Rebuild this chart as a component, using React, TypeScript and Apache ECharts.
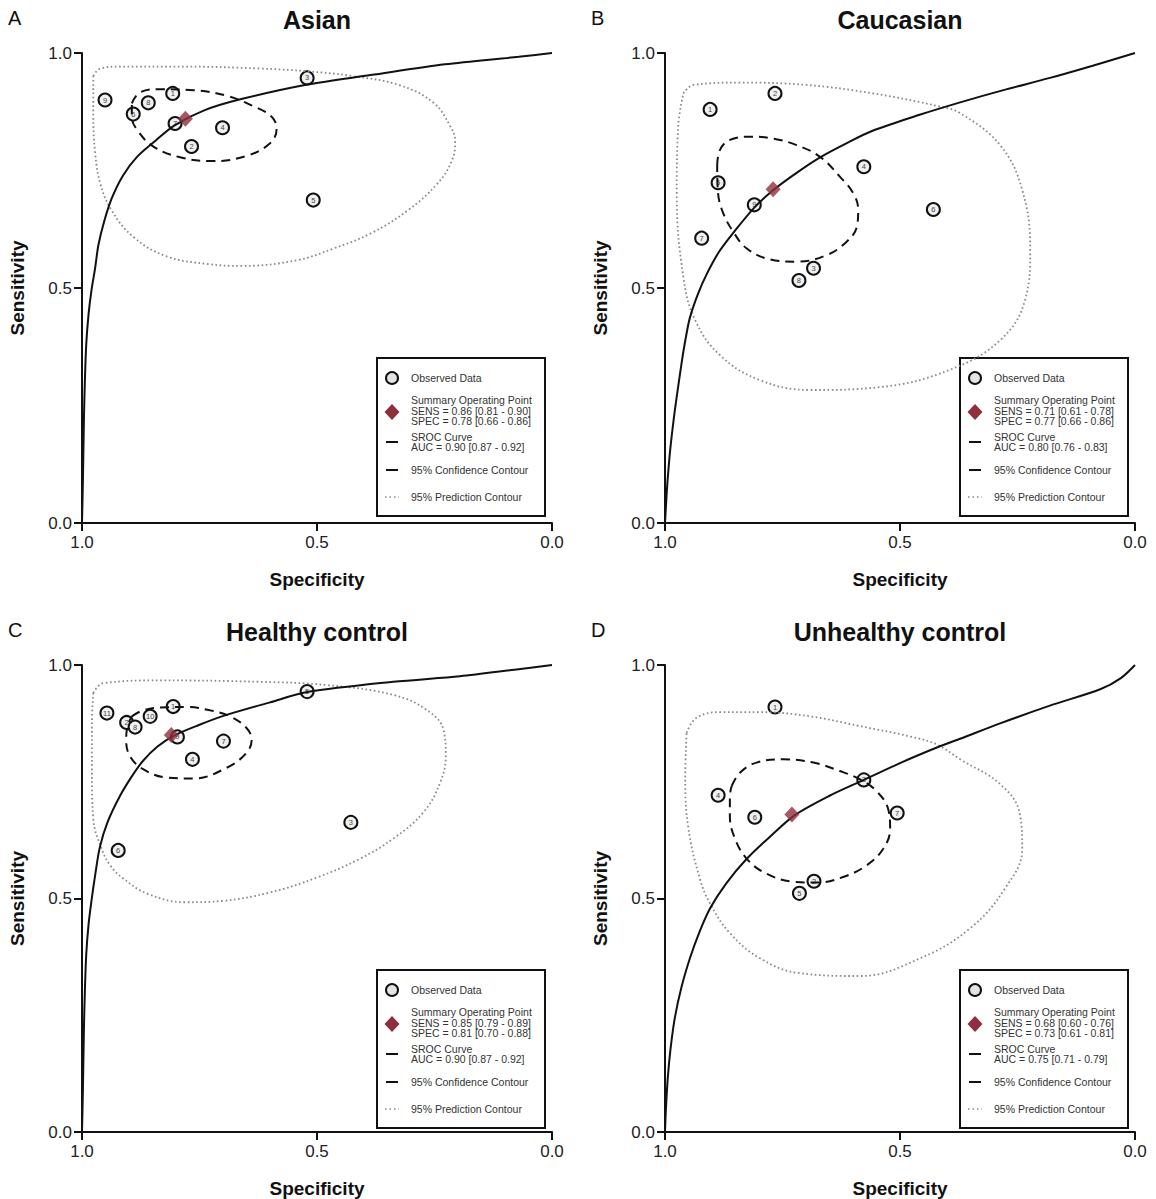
import React, { useEffect, useRef } from "react";
import * as echarts from "echarts";

const FONT = "'Liberation Sans', Arial, Helvetica, sans-serif";

const panelLetters = ["A", "B", "C", "D"];
const panelTitles = ["Asian", "Caucasian", "Healthy control", "Unhealthy control"];
const tickLabels = ["0.0", "0.5", "1.0"];

// ---------- Panel A : Asian ----------
const studiesA = ["9", "6", "8", "1", "7", "2", "4", "3", "5"];
const specA = [0.951, 0.891, 0.859, 0.807, 0.802, 0.767, 0.701, 0.521, 0.508];
const sensA = [0.900, 0.870, 0.894, 0.914, 0.850, 0.801, 0.841, 0.947, 0.687];
const summaryA = [0.78, 0.86];
const srocA = [[1.0, 0.0], [0.998, 0.094], [0.996, 0.216], [0.994, 0.298], [0.991, 0.38], [0.986, 0.445], [0.98, 0.494], [0.972, 0.543], [0.965, 0.592], [0.953, 0.641], [0.937, 0.69], [0.913, 0.739], [0.882, 0.78], [0.843, 0.814], [0.803, 0.846], [0.74, 0.878], [0.661, 0.902], [0.52, 0.933], [0.386, 0.953], [0.228, 0.976], [0.071, 0.992], [0.0, 1.0]];
const confA = [[0.894, 0.893], [0.877, 0.916], [0.834, 0.923], [0.763, 0.921], [0.692, 0.909], [0.636, 0.887], [0.596, 0.864], [0.586, 0.838], [0.6, 0.808], [0.65, 0.781], [0.721, 0.77], [0.791, 0.778], [0.848, 0.801], [0.88, 0.833], [0.894, 0.864], [0.894, 0.893]];
const predA = [[0.976, 0.951], [0.961, 0.967], [0.921, 0.971], [0.78, 0.971], [0.622, 0.967], [0.52, 0.961], [0.425, 0.951], [0.323, 0.931], [0.252, 0.894], [0.217, 0.845], [0.206, 0.812], [0.213, 0.771], [0.244, 0.722], [0.307, 0.665], [0.386, 0.616], [0.465, 0.584], [0.543, 0.559], [0.661, 0.547], [0.732, 0.551], [0.819, 0.567], [0.89, 0.608], [0.937, 0.665], [0.961, 0.722], [0.972, 0.788], [0.976, 0.869], [0.976, 0.951]];
const legendA = ["SENS = 0.86 [0.81 - 0.90]", "SPEC = 0.78 [0.66 - 0.86]", "AUC = 0.90 [0.87 - 0.92]"];

// ---------- Panel B : Caucasian ----------
const studiesB = ["1", "2", "4", "5", "9", "6", "7", "3", "8"];
const specB = [0.904, 0.766, 0.577, 0.887, 0.81, 0.429, 0.922, 0.684, 0.715];
const sensB = [0.880, 0.914, 0.758, 0.724, 0.677, 0.667, 0.606, 0.542, 0.516];
const summaryB = [0.77, 0.71];
const srocB = [[1.0, 0.0], [0.998, 0.035], [0.996, 0.07], [0.993, 0.11], [0.989, 0.155], [0.984, 0.2], [0.979, 0.24], [0.972, 0.29], [0.964, 0.345], [0.956, 0.393], [0.947, 0.437], [0.93, 0.487], [0.911, 0.53], [0.885, 0.577], [0.851, 0.622], [0.81, 0.671], [0.77, 0.708], [0.72, 0.745], [0.67, 0.778], [0.61, 0.81], [0.557, 0.835], [0.46, 0.868], [0.372, 0.895], [0.28, 0.921], [0.181, 0.947], [0.09, 0.973], [0.0, 1.0]];
const confB = [[0.889, 0.76], [0.883, 0.794], [0.862, 0.815], [0.819, 0.822], [0.77, 0.818], [0.72, 0.804], [0.67, 0.779], [0.628, 0.737], [0.599, 0.701], [0.589, 0.666], [0.592, 0.63], [0.613, 0.599], [0.656, 0.57], [0.72, 0.556], [0.777, 0.561], [0.826, 0.584], [0.855, 0.62], [0.876, 0.659], [0.887, 0.701], [0.889, 0.76]];
const predB = [[0.961, 0.914], [0.94, 0.932], [0.84, 0.937], [0.699, 0.932], [0.557, 0.914], [0.415, 0.886], [0.372, 0.872], [0.287, 0.804], [0.24, 0.709], [0.223, 0.581], [0.234, 0.474], [0.287, 0.389], [0.394, 0.326], [0.543, 0.289], [0.691, 0.283], [0.798, 0.304], [0.883, 0.357], [0.936, 0.432], [0.961, 0.524], [0.975, 0.701], [0.972, 0.843], [0.961, 0.914]];
const legendB = ["SENS = 0.71 [0.61 - 0.78]", "SPEC = 0.77 [0.66 - 0.86]", "AUC = 0.80 [0.76 - 0.83]"];

// ---------- Panel C : Healthy control ----------
const studiesC = ["11", "2", "8", "10", "1", "9", "7", "4", "5", "3", "6"];
const specC = [0.947, 0.905, 0.887, 0.855, 0.806, 0.797, 0.699, 0.765, 0.521, 0.428, 0.923];
const sensC = [0.897, 0.877, 0.867, 0.890, 0.911, 0.846, 0.837, 0.798, 0.943, 0.663, 0.603];
const summaryC = [0.81, 0.85];
const srocC = [[1.0, 0.0], [0.998, 0.094], [0.996, 0.216], [0.994, 0.298], [0.991, 0.38], [0.986, 0.445], [0.98, 0.494], [0.972, 0.55], [0.962, 0.61], [0.945, 0.665], [0.919, 0.72], [0.895, 0.76], [0.87, 0.795], [0.84, 0.825], [0.804, 0.849], [0.75, 0.872], [0.699, 0.891], [0.6, 0.92], [0.521, 0.942], [0.338, 0.964], [0.196, 0.976], [0.08, 0.99], [0.0, 1.0]];
const confC = [[0.894, 0.89], [0.87, 0.903], [0.834, 0.909], [0.777, 0.91], [0.728, 0.903], [0.685, 0.89], [0.65, 0.865], [0.639, 0.84], [0.65, 0.812], [0.692, 0.78], [0.763, 0.757], [0.82, 0.759], [0.87, 0.777], [0.898, 0.805], [0.906, 0.84], [0.903, 0.869], [0.894, 0.89]];
const predC = [[0.976, 0.94], [0.955, 0.961], [0.834, 0.967], [0.621, 0.964], [0.479, 0.957], [0.338, 0.936], [0.267, 0.904], [0.231, 0.862], [0.226, 0.805], [0.238, 0.748], [0.274, 0.684], [0.338, 0.628], [0.409, 0.585], [0.5, 0.545], [0.6, 0.513], [0.7, 0.495], [0.78, 0.492], [0.86, 0.51], [0.915, 0.545], [0.94, 0.571], [0.958, 0.606], [0.976, 0.67], [0.979, 0.777], [0.979, 0.87], [0.976, 0.94]];
const legendC = ["SENS = 0.85 [0.79 - 0.89]", "SPEC = 0.81 [0.70 - 0.88]", "AUC = 0.90 [0.87 - 0.92]"];

// ---------- Panel D : Unhealthy control ----------
const studiesD = ["1", "4", "6", "3", "7", "2", "5"];
const specD = [0.766, 0.887, 0.809, 0.577, 0.506, 0.683, 0.714];
const sensD = [0.910, 0.721, 0.674, 0.754, 0.683, 0.537, 0.511];
const summaryD = [0.73, 0.68];
const srocD = [[1.0, 0.0], [0.998, 0.05], [0.994, 0.117], [0.988, 0.18], [0.979, 0.245], [0.965, 0.31], [0.947, 0.372], [0.928, 0.425], [0.904, 0.479], [0.87, 0.532], [0.826, 0.585], [0.776, 0.633], [0.723, 0.679], [0.65, 0.72], [0.577, 0.754], [0.5, 0.79], [0.415, 0.826], [0.372, 0.842], [0.287, 0.875], [0.181, 0.913], [0.074, 0.948], [0.03, 0.972], [0.0, 1.0]];
const confD = [[0.858, 0.741], [0.84, 0.77], [0.805, 0.791], [0.748, 0.798], [0.684, 0.791], [0.628, 0.773], [0.585, 0.755], [0.55, 0.73], [0.525, 0.691], [0.521, 0.649], [0.536, 0.606], [0.571, 0.571], [0.621, 0.546], [0.677, 0.534], [0.727, 0.536], [0.784, 0.553], [0.826, 0.585], [0.851, 0.628], [0.862, 0.677], [0.862, 0.72], [0.858, 0.741]];
const predD = [[0.954, 0.855], [0.933, 0.887], [0.883, 0.899], [0.798, 0.899], [0.691, 0.89], [0.585, 0.869], [0.479, 0.847], [0.422, 0.83], [0.372, 0.798], [0.287, 0.745], [0.245, 0.681], [0.24, 0.606], [0.277, 0.521], [0.351, 0.436], [0.457, 0.372], [0.585, 0.334], [0.713, 0.34], [0.798, 0.372], [0.862, 0.426], [0.904, 0.489], [0.926, 0.543], [0.95, 0.649], [0.957, 0.755], [0.954, 0.855]];
const legendD = ["SENS = 0.68 [0.60 - 0.76]", "SPEC = 0.73 [0.61 - 0.81]", "AUC = 0.75 [0.71 - 0.79]"];

const panels = [
  { studies: studiesA, spec: specA, sens: sensA, summary: summaryA, sroc: srocA, conf: confA, pred: predA, legend: legendA },
  { studies: studiesB, spec: specB, sens: sensB, summary: summaryB, sroc: srocB, conf: confB, pred: predB, legend: legendB },
  { studies: studiesC, spec: specC, sens: sensC, summary: summaryC, sroc: srocC, conf: confC, pred: predC, legend: legendC },
  { studies: studiesD, spec: specD, sens: sensD, summary: summaryD, sroc: srocD, conf: confD, pred: predD, legend: legendD },
];

const GRID_POS = [
  [82, 53],
  [665, 53],
  [82, 665],
  [665, 665],
];
const SIZE = 470;

function buildOption() {
  const grid: any[] = [];
  const xAxis: any[] = [];
  const yAxis: any[] = [];
  const series: any[] = [];
  const graphic: any[] = [];

  panels.forEach((p, i) => {
    const [gx, gy] = GRID_POS[i];
    grid.push({ left: gx, top: gy, width: SIZE, height: SIZE, containLabel: false });
    const axisCommon = {
      type: "value",
      min: 0,
      max: 1,
      interval: 0.5,
      gridIndex: i,
      splitLine: { show: false },
      axisLine: { show: true, onZero: false, lineStyle: { color: "#111", width: 2 } },
      axisTick: { show: true, length: 8, lineStyle: { color: "#111", width: 2 } },
      nameLocation: "middle",
      nameTextStyle: { fontFamily: FONT, fontWeight: "bold", fontSize: 19, color: "#111" },
    };
    xAxis.push({
      ...axisCommon,
      inverse: true,
      position: "bottom",
      name: "Specificity",
      nameGap: 47,
      axisLabel: {
        fontFamily: FONT,
        fontSize: 17,
        color: "#222",
        margin: 11,
        formatter: (v: number) => tickLabels[Math.round(v * 2)],
      },
    });
    yAxis.push({
      ...axisCommon,
      position: "left",
      name: "Sensitivity",
      nameGap: 55,
      axisLabel: {
        fontFamily: FONT,
        fontSize: 17,
        color: "#222",
        margin: 10,
        formatter: (v: number) => tickLabels[Math.round(v * 2)],
      },
    });

    series.push({
      type: "scatter",
      xAxisIndex: i,
      yAxisIndex: i,
      symbol: "circle",
      symbolSize: 13,
      z: 2,
      itemStyle: { color: "#f0f0f0", borderColor: "#111", borderWidth: 2, opacity: 1 },
      label: {
        show: true,
        position: "inside",
        fontFamily: FONT,
        fontSize: 7.5,
        color: "#444",
        formatter: (d: any) => d.data[2],
      },
      data: p.spec.map((s, k) => [s, p.sens[k], p.studies[k]]),
    });
    series.push({
      type: "line",
      xAxisIndex: i,
      yAxisIndex: i,
      symbol: "none",
      smooth: 0.4,
      z: 3,
      lineStyle: { color: "#888", width: 1.8, type: [1.6, 2.6] },
      data: p.pred,
    });
    series.push({
      type: "line",
      xAxisIndex: i,
      yAxisIndex: i,
      symbol: "none",
      smooth: 0.4,
      z: 3,
      lineStyle: { color: "#111", width: 2, type: [9, 6] },
      data: p.conf,
    });
    series.push({
      type: "line",
      xAxisIndex: i,
      yAxisIndex: i,
      symbol: "none",
      smooth: 0.3,
      z: 4,
      lineStyle: { color: "#111", width: 2 },
      data: p.sroc,
    });
    series.push({
      type: "scatter",
      xAxisIndex: i,
      yAxisIndex: i,
      symbol: "diamond",
      symbolSize: [15, 16],
      z: 5,
      itemStyle: { color: "#8e2f3c" },
      data: [p.summary],
    });

    // Panel letter and title
    graphic.push({
      type: "text",
      left: gx - 74,
      top: gy - 45,
      style: { text: panelLetters[i], font: `20px ${FONT}`, fill: "#111" },
    });
    graphic.push({
      type: "text",
      x: gx + SIZE / 2,
      y: gy - 33,
      style: {
        text: panelTitles[i],
        font: `bold 25px ${FONT}`,
        fill: "#111",
        textAlign: "center",
        textVerticalAlign: "middle",
      },
    });

    // Legend
    const lx = gx + 295;
    const ly = gy + 305;
    const tx = gx + 329;
    const tf = `10.5px ${FONT}`;
    const tcol = "#333";
    const txt = (text: string, y: number) => ({
      type: "text",
      x: tx,
      y,
      style: { text, font: tf, fill: tcol, textVerticalAlign: "middle" },
    });
    graphic.push({
      type: "group",
      children: [
        {
          type: "rect",
          shape: { x: lx, y: ly, width: 168, height: 158 },
          style: { fill: "#fff", stroke: "#111", lineWidth: 2 },
        },
        {
          type: "circle",
          shape: { cx: gx + 310, cy: gy + 325, r: 6 },
          style: { fill: "#e4e4e4", stroke: "#111", lineWidth: 2 },
        },
        txt("Observed Data", gy + 325),
        {
          type: "polygon",
          shape: {
            points: [
              [gx + 310, gy + 351],
              [gx + 317.5, gy + 359],
              [gx + 310, gy + 367],
              [gx + 302.5, gy + 359],
            ],
          },
          style: { fill: "#8e2f3c" },
        },
        txt("Summary Operating Point", gy + 347),
        txt(p.legend[0], gy + 357.5),
        txt(p.legend[1], gy + 368),
        {
          type: "line",
          shape: { x1: gx + 304, y1: gy + 389, x2: gx + 316, y2: gy + 389 },
          style: { stroke: "#111", lineWidth: 2 },
        },
        txt("SROC Curve", gy + 384),
        txt(p.legend[2], gy + 394),
        {
          type: "line",
          shape: { x1: gx + 304, y1: gy + 417, x2: gx + 316, y2: gy + 417 },
          style: { stroke: "#111", lineWidth: 2 },
        },
        txt("95% Confidence Contour", gy + 417),
        {
          type: "line",
          shape: { x1: gx + 303, y1: gy + 444, x2: gx + 317, y2: gy + 444 },
          style: { stroke: "#888", lineWidth: 1.6, lineDash: [1.5, 3] },
        },
        txt("95% Prediction Contour", gy + 444),
      ],
    });
  });

  return {
    animation: false,
    backgroundColor: "#fff",
    grid,
    xAxis,
    yAxis,
    series,
    graphic,
  };
}

export default function App() {
  const ref = useRef<HTMLDivElement>(null);
  useEffect(() => {
    if (!ref.current) return;
    const chart = echarts.init(ref.current, undefined, { renderer: "svg" });
    chart.setOption(buildOption() as any);
    return () => chart.dispose();
  }, []);
  return (
    <div
      ref={ref}
      style={{ position: "absolute", left: 0, top: 0, width: 1156, height: 1199, background: "#fff" }}
    />
  );
}
